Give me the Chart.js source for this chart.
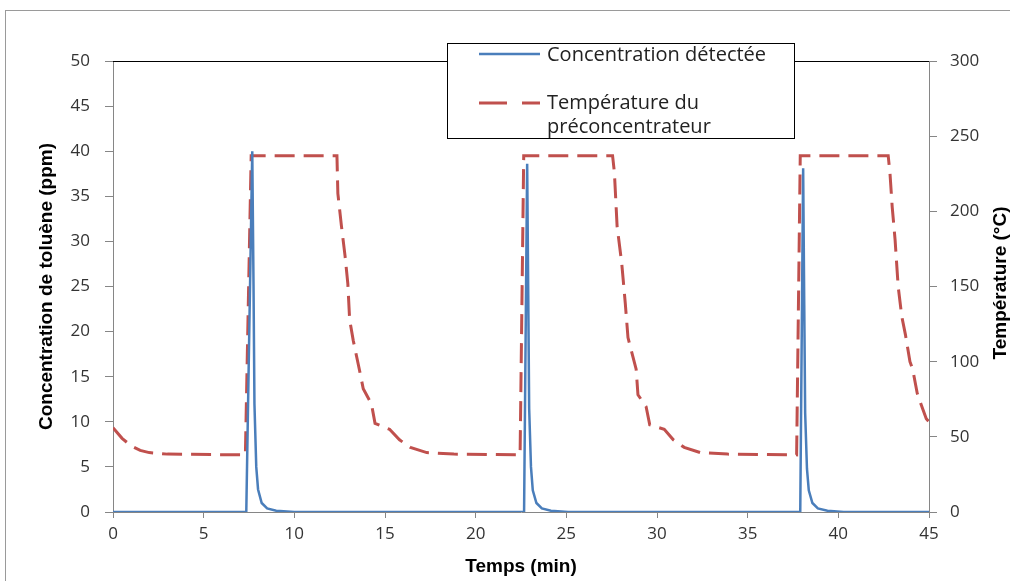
<!DOCTYPE html>
<html>
<head>
<meta charset="utf-8">
<title>Concentration / Température</title>
<script src="https://cdn.jsdelivr.net/npm/chart.js@4.4.1/dist/chart.umd.min.js"></script>
<style>
    body { margin: 0; background: #fff; }
    #wrap { width: 1010px; height: 581px; }
</style>
</head>
<body>
<div id="wrap"><canvas id="line-chart" width="1010" height="581"></canvas></div>
<script>
    "use strict";

    // Concentration détectée (ppm), temps en minutes
    const concTime = [0, 7.35, 7.68, 7.75, 7.8, 7.9, 8.0, 8.2, 8.5, 9.0, 10.0,
        22.67, 22.84, 22.9, 22.95, 23.05, 23.15, 23.35, 23.65, 24.15, 25.1,
        37.9, 38.06, 38.12, 38.17, 38.27, 38.37, 38.57, 38.87, 39.4, 40.3, 45];
    const concValues = [0, 0, 40, 25, 12, 5, 2.5, 1, 0.4, 0.15, 0,
        0, 38.6, 24, 11.5, 5, 2.4, 1, 0.4, 0.15, 0,
        0, 38.1, 23, 11, 4.8, 2.4, 1, 0.4, 0.15, 0, 0];

    // Température du préconcentrateur (°C)
    const tempTime = [0, 0.5, 1, 1.5, 2, 3, 7.3, 7.62,
        12.35, 12.4, 12.6, 12.8, 12.95, 13.05, 13.25, 13.6, 13.8, 14.25, 14.45, 15.25, 15.8, 16.4, 17.3, 18.8, 22.45,
        22.65, 27.55, 27.65, 27.8, 28.05, 28.25, 28.4, 28.85, 28.95, 29.4, 29.6, 30.4, 30.9, 31.5, 32.4, 33.9, 37.7,
        37.9, 42.75, 42.85, 42.97, 43.13, 43.3, 43.5, 43.7, 43.95, 44.1, 44.35, 44.55, 44.85, 45];
    const tempValues = [56, 49, 44, 41, 39.5, 38.5, 38, 237,
        237, 212, 190, 170, 152, 128, 114, 94, 82, 72, 59, 55, 48, 43, 39.5, 38.5, 38,
        237, 237, 226, 190, 166, 139, 116, 95, 78, 70, 58, 55, 48, 43, 39.5, 38.5, 38,
        237, 237, 225, 203, 181, 150, 130, 118, 100, 95, 79, 72, 62, 60];

    const xTicks = { min: 0, max: 45, step: 5 };
    const concTicks = { min: 0, max: 50, step: 5 };
    const tempTicks = { min: 0, max: 300, step: 50 };

    const blue = "#4A7EBB";
    const red = "#C0504D";
    const axisGrey = "#868686";
    const tickFont = { family: "'Open Sans', sans-serif", size: 17 };
    const titleFont = { family: "'Liberation Sans', Arial, sans-serif", size: 19, weight: "bold" };

    function toPoints(xs, ys) {
        return xs.map((x, i) => ({ x: x, y: ys[i] }));
    }

    // cadre, bord supérieur, titre de droite et légende
    const decorations = {
        id: "decorations",
        beforeDraw(chart) {
            const ctx = chart.ctx;
            ctx.save();
            ctx.fillStyle = "#fff";
            ctx.fillRect(0, 0, chart.width, chart.height);
            ctx.strokeStyle = "#9a9a9a";
            ctx.lineWidth = 1;
            ctx.strokeRect(5.5, 10.5, 1200, 800);
            ctx.restore();
        },
        afterDraw(chart) {
            const ctx = chart.ctx;
            const area = chart.chartArea;
            ctx.save();

            ctx.strokeStyle = "#000";
            ctx.lineWidth = 1;
            ctx.beginPath();
            ctx.moveTo(area.left, area.top + 0.5);
            ctx.lineTo(area.right, area.top + 0.5);
            ctx.stroke();

            ctx.translate(1001, 283);
            ctx.rotate(-Math.PI / 2);
            ctx.font = "bold 19px 'Liberation Sans', Arial, sans-serif";
            ctx.fillStyle = "#000";
            ctx.textAlign = "center";
            ctx.textBaseline = "middle";
            ctx.fillText("Température (°C)", 0, 0);
            ctx.setTransform(1, 0, 0, 1, 0, 0);

            // légende
            ctx.fillStyle = "#fff";
            ctx.fillRect(447, 43, 347, 95);
            ctx.strokeStyle = "#000";
            ctx.strokeRect(447.5, 43.5, 347, 95);

            ctx.lineWidth = 2.5;
            ctx.strokeStyle = blue;
            ctx.beginPath();
            ctx.moveTo(479, 54);
            ctx.lineTo(540, 54);
            ctx.stroke();

            ctx.lineWidth = 3;
            ctx.strokeStyle = red;
            ctx.setLineDash([28, 15]);
            ctx.beginPath();
            ctx.moveTo(479, 103);
            ctx.lineTo(540, 103);
            ctx.stroke();
            ctx.setLineDash([]);

            ctx.font = "20px 'Open Sans', sans-serif";
            ctx.fillStyle = "#222";
            ctx.textAlign = "left";
            ctx.textBaseline = "middle";
            ctx.fillText("Concentration détectée", 547, 55);
            ctx.fillText("Température du", 547, 103);
            ctx.fillText("préconcentrateur", 547, 127);
            ctx.restore();
        }
    };

    const ctx = document.getElementById("line-chart").getContext("2d");
    const myChart = new Chart(ctx, {
        type: "line",
        data: {
            datasets: [{
                label: "Concentration détectée",
                data: toPoints(concTime, concValues),
                borderColor: blue,
                borderWidth: 2.5,
                pointRadius: 0,
                tension: 0,
                yAxisID: "y"
            }, {
                label: "Température du préconcentrateur",
                data: toPoints(tempTime, tempValues),
                borderColor: red,
                borderWidth: 3,
                borderDash: [20, 9],
                pointRadius: 0,
                tension: 0,
                yAxisID: "y1"
            }]
        },
        options: {
            responsive: false,
            animation: false,
            layout: { padding: { top: 61, left: 0, right: 0, bottom: 0 } },
            plugins: {
                legend: { display: false },
                tooltip: { enabled: false }
            },
            scales: {
                x: {
                    type: "linear",
                    min: xTicks.min,
                    max: xTicks.max,
                    ticks: { stepSize: xTicks.step, color: "#333", font: tickFont, padding: 6 },
                    grid: { drawOnChartArea: false, color: axisGrey, tickLength: 6 },
                    border: { color: axisGrey },
                    title: { display: true, text: "Temps (min)", color: "#000", font: titleFont, padding: { top: 0, bottom: 3 } },
                    afterFit: function (scale) { scale.height = 69; }
                },
                y: {
                    position: "left",
                    min: concTicks.min,
                    max: concTicks.max,
                    ticks: { stepSize: concTicks.step, color: "#333", font: tickFont, padding: 15 },
                    grid: { drawOnChartArea: false, color: axisGrey, tickLength: 8 },
                    border: { color: axisGrey },
                    title: { display: true, text: "Concentration de toluène (ppm)", color: "#000", font: titleFont, padding: { top: 35, bottom: 0 } },
                    afterFit: function (scale) { scale.width = 113; }
                },
                y1: {
                    position: "right",
                    min: tempTicks.min,
                    max: tempTicks.max,
                    ticks: { stepSize: tempTicks.step, color: "#333", font: tickFont, padding: 13 },
                    grid: { drawOnChartArea: false, color: axisGrey, tickLength: 8 },
                    border: { color: axisGrey },
                    afterFit: function (scale) { scale.width = 81; }
                }
            }
        },
        plugins: [decorations]
    });
</script>
</body>
</html>
